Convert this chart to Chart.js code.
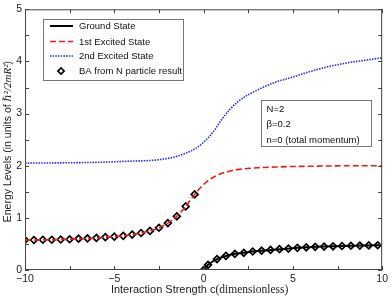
<!DOCTYPE html>
<html>
<head>
<meta charset="utf-8">
<script src="https://cdn.jsdelivr.net/npm/chart.js@4/dist/chart.umd.min.js"></script>
<style>
  html, body { margin: 0; padding: 0; background: #fff; }
  #wrap { width: 391px; height: 297px; }
</style>
</head>
<body>
<div id="wrap"><canvas id="levelChart" width="391" height="297"></canvas></div>
<script>
// ground state, c >= 0 (line and BA markers share these points)
var groundC = [0, 0.25, 0.75, 1.25, 1.75, 2.25, 2.75, 3.25, 3.75, 4.25, 4.75, 5.25, 5.75, 6.25, 6.75, 7.25, 7.75, 8.25, 8.75, 9.25, 9.75, 10];
var groundE = [0, 0.10, 0.21, 0.27, 0.31, 0.33, 0.355, 0.37, 0.385, 0.40, 0.41, 0.425, 0.435, 0.445, 0.45, 0.455, 0.46, 0.465, 0.468, 0.472, 0.475, 0.478];

// 1st excited state
var firstC = [-10, -9.5, -9, -8.5, -8, -7.5, -7, -6.5, -6, -5.5, -5, -4.5, -4, -3.5, -3, -2.5, -2, -1.5, -1, -0.5, 0, 0.5, 1, 1.5, 2, 3, 4, 5, 6, 7, 8, 9, 10];
var firstE = [0.575, 0.575, 0.58, 0.58, 0.585, 0.59, 0.60, 0.605, 0.615, 0.63, 0.64, 0.655, 0.68, 0.71, 0.75, 0.81, 0.90, 1.03, 1.22, 1.45, 1.64, 1.77, 1.85, 1.90, 1.93, 1.96, 1.975, 1.985, 1.99, 1.995, 2.0, 2.0, 2.0];

// 2nd excited state
var secondC = [-10, -8, -6, -5, -4, -3, -2, -1.5, -1, -0.5, 0, 0.5, 1, 1.5, 2, 2.5, 3, 4, 5, 6, 7, 8, 9, 10];
var secondE = [2.05, 2.055, 2.065, 2.075, 2.09, 2.10, 2.14, 2.18, 2.24, 2.32, 2.45, 2.63, 2.88, 3.09, 3.25, 3.36, 3.45, 3.60, 3.70, 3.81, 3.90, 3.97, 4.02, 4.07];

// BA (N particle) markers: 1st excited for c < 0, ground for c >= 0
var baFirstC = firstC.slice(0, 20);
var baFirstE = firstE.slice(0, 20);
var baGroundC = groundC.slice(0, 21);
var baGroundE = groundE.slice(0, 21);

var xTicks = [-10, -5, 0, 5, 10];
var yTicks = [0, 1, 2, 3, 4, 5];
var infoLines = ['N=2', 'β=0.2', 'n=0 (total momentum)'];

function pts(xs, ys) {
  return xs.map(function(x, i) { return {x: x, y: ys[i]}; });
}

var SANS = '"Liberation Sans", Arial, sans-serif';
var SERIF = '"Liberation Serif", "DejaVu Serif", serif';

var datasets = [
  {
    label: 'Ground State',
    data: pts(groundC, groundE),
    borderColor: '#000',
    borderWidth: 2,
    pointRadius: 0,
    cubicInterpolationMode: 'monotone'
  },
  {
    label: '1st Excited State',
    data: pts(firstC, firstE),
    borderColor: '#f01818',
    borderWidth: 1.6,
    borderDash: [6, 3],
    pointRadius: 0,
    cubicInterpolationMode: 'monotone'
  },
  {
    label: '2nd Excited State',
    data: pts(secondC, secondE),
    borderColor: '#2a2aff',
    borderWidth: 1.6,
    borderDash: [1.5, 1.2],
    pointRadius: 0,
    cubicInterpolationMode: 'monotone'
  },
  {
    label: 'BA from N particle result',
    data: pts(baFirstC, baFirstE).concat(pts(baGroundC, baGroundE)),
    showLine: false,
    pointStyle: 'rectRot',
    pointRadius: 3.4,
    pointBorderWidth: 1.7,
    pointBackgroundColor: '#fff',
    pointBorderColor: '#000'
  }
];

// box, inward ticks, titles, legend and info box
var framePlugin = {
  id: 'frame',
  afterDraw: function(chart) {
    var ctx = chart.ctx;
    var a = chart.chartArea;
    var xs = chart.scales.x, ys = chart.scales.y;
    ctx.save();
    ctx.strokeStyle = '#444';
    ctx.lineWidth = 1;
    ctx.strokeRect(a.left + 0.5, a.top + 0.5, a.right - a.left - 1, a.bottom - a.top - 1);
    ctx.beginPath();
    xs.ticks.forEach(function(t) {
      var px = Math.round(xs.getPixelForValue(t.value)) + 0.5;
      ctx.moveTo(px, a.bottom); ctx.lineTo(px, a.bottom - 4);
      ctx.moveTo(px, a.top); ctx.lineTo(px, a.top + 4);
    });
    ys.ticks.forEach(function(t) {
      var py = Math.round(ys.getPixelForValue(t.value)) + 0.5;
      ctx.moveTo(a.left, py); ctx.lineTo(a.left + 4, py);
      ctx.moveTo(a.right, py); ctx.lineTo(a.right - 4, py);
    });
    ctx.stroke();

    // x title
    ctx.fillStyle = '#222';
    ctx.textBaseline = 'alphabetic';
    var part1 = 'Interaction Strength c';
    var part2 = '(dimensionless)';
    ctx.font = '11px ' + SANS;
    var w1 = ctx.measureText(part1).width;
    ctx.font = '11.5px ' + SERIF;
    var w2 = ctx.measureText(part2).width;
    var cx = (a.left + a.right) / 2 - 4;
    var sx = cx - (w1 + w2) / 2;
    ctx.font = '11px ' + SANS;
    ctx.fillText(part1, sx, 293);
    ctx.font = '11.5px ' + SERIF;
    ctx.fillText(part2, sx + w1, 293);

    // y title
    ctx.save();
    ctx.translate(11, (a.top + a.bottom) / 2 + 2);
    ctx.rotate(-Math.PI / 2);
    var segs = [
      ['Energy Levels (in units of ', '10.5px ' + SANS],
      ['ℏ²/2', 'italic 11px ' + SERIF],
      ['mR²', 'italic 11px ' + SERIF],
      [')', '10.5px ' + SANS]
    ];
    var tot = 0;
    segs.forEach(function(s) { ctx.font = s[1]; tot += ctx.measureText(s[0]).width; });
    var px = -tot / 2;
    segs.forEach(function(s) {
      ctx.font = s[1];
      ctx.fillText(s[0], px, 0);
      px += ctx.measureText(s[0]).width;
    });
    ctx.restore();

    // legend
    var lx = 43.5, ly = 19.5, lw = 140, lh = 61;
    ctx.fillStyle = '#fff';
    ctx.fillRect(lx, ly, lw, lh);
    ctx.strokeStyle = '#777';
    ctx.lineWidth = 1;
    ctx.strokeRect(lx, ly, lw, lh);
    var rowsY = [26, 41.5, 56, 71];
    ctx.font = '9.5px ' + SANS;
    ctx.textBaseline = 'middle';
    chart.data.datasets.forEach(function(ds, i) {
      var y = rowsY[i];
      if (ds.showLine === false) {
        ctx.save();
        ctx.translate(61, y);
        ctx.rotate(Math.PI / 4);
        ctx.fillStyle = ds.pointBackgroundColor;
        ctx.strokeStyle = ds.pointBorderColor;
        ctx.lineWidth = ds.pointBorderWidth;
        ctx.fillRect(-2.2, -2.2, 4.4, 4.4);
        ctx.strokeRect(-2.2, -2.2, 4.4, 4.4);
        ctx.restore();
      } else {
        ctx.save();
        ctx.strokeStyle = ds.borderColor;
        ctx.lineWidth = ds.borderWidth;
        ctx.setLineDash(ds.borderDash || []);
        ctx.beginPath();
        ctx.moveTo(50, y); ctx.lineTo(73, y);
        ctx.stroke();
        ctx.restore();
      }
      ctx.fillStyle = '#111';
      ctx.fillText(ds.label, 79, y + 0.5);
    });

    // info box
    var bx = 261.5, by = 100.5, bw = 110, bh = 46;
    ctx.fillStyle = '#fff';
    ctx.fillRect(bx, by, bw, bh);
    ctx.strokeStyle = '#777';
    ctx.strokeRect(bx, by, bw, bh);
    ctx.fillStyle = '#111';
    infoLines.forEach(function(t, i) {
      ctx.fillText(t, 266.5, 109 + i * 15.5);
    });
    ctx.restore();
  }
};

var ctx = document.getElementById('levelChart').getContext('2d');
new Chart(ctx, {
  type: 'line',
  data: {datasets: datasets},
  plugins: [framePlugin],
  options: {
    responsive: false,
    animation: false,
    layout: {padding: {left: 0, top: 3.5, right: 5.4, bottom: 0}},
    plugins: {legend: {display: false}, tooltip: {enabled: false}},
    scales: {
      x: {
        type: 'linear',
        min: -10, max: 10,
        grid: {display: false, drawTicks: false},
        border: {display: false},
        ticks: {
          stepSize: 2.5,
          padding: 3,
          maxRotation: 0,
          autoSkip: false,
          color: '#222',
          font: {family: SANS, size: 10.5},
          callback: function(v) {
            return xTicks.indexOf(v) >= 0 ? String(v).replace('-', '\u2212') : '';
          }
        },
        afterFit: function(s) { s.height = 27; }
      },
      y: {
        min: 0, max: 5,
        grid: {display: false, drawTicks: false},
        border: {display: false},
        ticks: {
          stepSize: 0.5,
          padding: 3,
          autoSkip: false,
          color: '#222',
          font: {family: SANS, size: 10.5},
          callback: function(v) {
            return yTicks.indexOf(v) >= 0 ? String(v) : '';
          }
        },
        afterFit: function(s) { s.width = 25; }
      }
    }
  }
});
</script>
</body>
</html>
